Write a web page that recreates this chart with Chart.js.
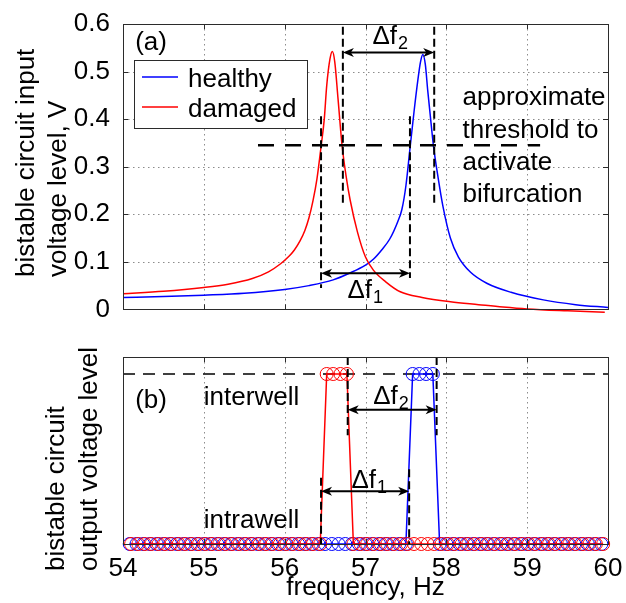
<!DOCTYPE html>
<html>
<head>
<meta charset="utf-8">
<script src="https://cdn.jsdelivr.net/npm/chart.js@4.4.1/dist/chart.umd.min.js"></script>
<style>
  html, body { margin: 0; padding: 0; background: #fff; }
  #wrap { position: relative; width: 626px; height: 603px; }
  canvas { position: absolute; left: 0; }
  #inputChart { top: 0; }
  #outputChart { top: 330px; }
</style>
</head>
<body>
<div id="wrap">
  <canvas id="inputChart" width="626" height="330"></canvas>
  <canvas id="outputChart" width="626" height="273"></canvas>
</div>
<script>
// ---------------- data ----------------
const freqTicks = [54, 55, 56, 57, 58, 59, 60];
const freqTickLabels = ['54', '55', '56', '57', '58', '59', '60'];
const inputTicks = [0, 0.1, 0.2, 0.3, 0.4, 0.5, 0.6];
const inputTickLabels = ['0', '0.1', '0.2', '0.3', '0.4', '0.5', '0.6'];

// (a) input voltage of the bistable circuit vs. excitation frequency
const healthyFreq  = [54.0, 54.5, 55.0, 55.5, 56.0, 56.3, 56.6, 56.8, 57.0, 57.1, 57.2, 57.3, 57.4, 57.45, 57.5, 57.55, 57.6, 57.65, 57.68, 57.71, 57.74, 57.77, 57.8, 57.84, 57.9, 57.96, 58.05, 58.15, 58.3, 58.5, 58.8, 59.2, 59.6, 60.0];
const healthyInput = [0.025, 0.027, 0.030, 0.034, 0.042, 0.050, 0.062, 0.076, 0.093, 0.106, 0.125, 0.148, 0.185, 0.21, 0.26, 0.338, 0.415, 0.485, 0.52, 0.536, 0.515, 0.46, 0.41, 0.345, 0.275, 0.215, 0.15, 0.11, 0.078, 0.055, 0.036, 0.02, 0.01, 0.004];

const damagedFreq  = [54.0, 54.5, 55.0, 55.3, 55.6, 55.8, 55.95, 56.05, 56.12, 56.19, 56.25, 56.3, 56.35, 56.4, 56.45, 56.49, 56.52, 56.56, 56.59, 56.62, 56.66, 56.71, 56.76, 56.81, 56.9, 57.0, 57.1, 57.25, 57.43, 57.7, 58.05, 58.4, 58.7, 59.0, 59.5, 59.96];
const damagedInput = [0.033, 0.038, 0.046, 0.053, 0.065, 0.079, 0.096, 0.111, 0.125, 0.144, 0.166, 0.192, 0.228, 0.275, 0.342, 0.4, 0.47, 0.526, 0.542, 0.52, 0.443, 0.345, 0.28, 0.23, 0.163, 0.11, 0.082, 0.058, 0.037, 0.025, 0.016, 0.01, 0.005, 0.001, -0.003, -0.006];

// (b) output state of the bistable circuit (0 = intrawell, 1 = interwell)
const healthySweep = [
  54.083, 54.167, 54.25, 54.333, 54.417, 54.5, 54.583, 54.667, 54.75, 54.833,
  54.917, 55, 55.083, 55.167, 55.25, 55.333, 55.417, 55.5, 55.583, 55.667,
  55.75, 55.833, 55.917, 56, 56.083, 56.167, 56.25, 56.333, 56.417, 56.5,
  56.583, 56.667, 56.75, 56.833, 56.917, 57, 57.083, 57.167, 57.25, 57.333,
  57.417, 57.5, 57.583, 57.667, 57.75, 57.833, 57.917, 58, 58.083, 58.167,
  58.25, 58.333, 58.417, 58.5, 58.583, 58.667, 58.75, 58.833, 58.917, 59,
  59.083, 59.167, 59.25, 59.333, 59.417, 59.5, 59.583, 59.667, 59.75, 59.833,
  59.917];
const healthyOutput = [
  0, 0, 0, 0, 0, 0, 0, 0, 0, 0,
  0, 0, 0, 0, 0, 0, 0, 0, 0, 0,
  0, 0, 0, 0, 0, 0, 0, 0, 0, 0,
  0, 0, 0, 0, 0, 0, 0, 0, 0, 0,
  0, 0, 1, 1, 1, 1, 0, 0, 0, 0,
  0, 0, 0, 0, 0, 0, 0, 0, 0, 0,
  0, 0, 0, 0, 0, 0, 0, 0, 0, 0,
  0];

const damagedSweep = [
  54.10, 54.19, 54.27, 54.35, 54.44, 54.52, 54.60, 54.69, 54.77, 54.85,
  54.94, 55.02, 55.10, 55.19, 55.27, 55.35, 55.44, 55.52, 55.60, 55.69,
  55.77, 55.85, 55.94, 56.02, 56.10, 56.19, 56.27, 56.35, 56.44, 56.52,
  56.60, 56.69, 56.77, 56.85, 56.94, 57.02, 57.10, 57.19, 57.27, 57.35,
  57.44, 57.52, 57.60, 57.69, 57.77, 57.85, 57.94, 58.02, 58.10, 58.19,
  58.27, 58.35, 58.44, 58.52, 58.60, 58.69, 58.77, 58.85, 58.94, 59.02,
  59.10, 59.19, 59.27, 59.35, 59.44, 59.52, 59.60, 59.69, 59.77, 59.85,
  59.94];
const damagedOutput = [
  0, 0, 0, 0, 0, 0, 0, 0, 0, 0,
  0, 0, 0, 0, 0, 0, 0, 0, 0, 0,
  0, 0, 0, 0, 0, 0, 0, 0, 0, 1,
  1, 1, 1, 0, 0, 0, 0, 0, 0, 0,
  0, 0, 0, 0, 0, 0, 0, 0, 0, 0,
  0, 0, 0, 0, 0, 0, 0, 0, 0, 0,
  0, 0, 0, 0, 0, 0, 0, 0, 0, 0,
  0];

// activation threshold and the frequency bands it cuts out of each curve
const thresholdLevel = 0.345;
const bandLow  = [56.45, 57.55];   // Δf1: lower threshold crossings
const bandHigh = [56.72, 57.85];   // Δf2: upper threshold crossings
const outBandLow  = [56.45, 57.54];
const outBandHigh = [56.78, 57.88];
const interwellLevel = 1;

// ---------------- styling ----------------
const BLUE = '#0000ff', RED = '#ff0000', INK = '#000000', FRAME = '#2b2b2b', GRID = '#8c8c8c';
const FAMILY = '"Liberation Sans", Arial, Helvetica, sans-serif';
const FS = 26;
const font = (s) => s + 'px ' + FAMILY;

const pts = (xs, ys) => xs.map((x, i) => ({ x: x, y: ys[i] }));

function dashedLine(ctx, x1, y1, x2, y2, w, dash, color) {
  ctx.save();
  ctx.strokeStyle = color || INK;
  ctx.lineWidth = w;
  ctx.setLineDash(dash);
  ctx.beginPath();
  ctx.moveTo(x1, y1);
  ctx.lineTo(x2, y2);
  ctx.stroke();
  ctx.restore();
}

function doubleArrow(ctx, x1, x2, y) {
  const hl = 11, hw = 4.5;
  ctx.save();
  ctx.strokeStyle = INK;
  ctx.fillStyle = INK;
  ctx.lineWidth = 2;
  ctx.beginPath();
  ctx.moveTo(x1 + 6, y);
  ctx.lineTo(x2 - 6, y);
  ctx.stroke();
  ctx.beginPath();
  ctx.moveTo(x1, y);
  ctx.lineTo(x1 + hl, y - hw);
  ctx.lineTo(x1 + hl * 0.72, y);
  ctx.lineTo(x1 + hl, y + hw);
  ctx.closePath();
  ctx.moveTo(x2, y);
  ctx.lineTo(x2 - hl, y - hw);
  ctx.lineTo(x2 - hl * 0.72, y);
  ctx.lineTo(x2 - hl, y + hw);
  ctx.closePath();
  ctx.fill();
  ctx.restore();
}

// "Δf" with a subscript index, centred on cx, sitting on baseline by
function deltaLabel(ctx, cx, by, sub) {
  ctx.save();
  ctx.fillStyle = INK;
  ctx.textBaseline = 'alphabetic';
  ctx.textAlign = 'left';
  ctx.font = font(FS);
  const w1 = ctx.measureText('Δf').width;
  ctx.font = font(18);
  const w2 = ctx.measureText(sub).width;
  const x0 = cx - (w1 + w2) / 2;
  ctx.font = font(FS);
  ctx.fillText('Δf', x0, by);
  ctx.font = font(18);
  ctx.fillText(sub, x0 + w1 + 1, by + 5);
  ctx.restore();
}

function text(ctx, str, x, y) {
  ctx.save();
  ctx.fillStyle = INK;
  ctx.font = font(FS);
  ctx.textAlign = 'left';
  ctx.textBaseline = 'alphabetic';
  ctx.fillText(str, x, y);
  ctx.restore();
}

// multi-line axis title, rotated, each line starting at the same bottom point
function rotatedTitle(ctx, lines, baseX, startY) {
  ctx.save();
  ctx.fillStyle = INK;
  ctx.font = font(FS);
  ctx.textAlign = 'left';
  ctx.textBaseline = 'alphabetic';
  lines.forEach((t, i) => {
    ctx.save();
    ctx.translate(baseX[i], startY);
    ctx.rotate(-Math.PI / 2);
    ctx.fillText(t, 0, 0);
    ctx.restore();
  });
  ctx.restore();
}

// dotted grid at the scale ticks
function dottedGrid(chart, withY) {
  const ctx = chart.ctx, a = chart.chartArea;
  const sx = chart.scales.x, sy = chart.scales.y;
  sx.ticks.forEach(t => {
    const x = Math.round(sx.getPixelForValue(t.value)) + 0.5;
    dashedLine(ctx, x, a.top, x, a.bottom, 1, [1.5, 3.5], GRID);
  });
  if (withY) {
    sy.ticks.forEach(t => {
      const y = Math.round(sy.getPixelForValue(t.value)) + 0.5;
      dashedLine(ctx, a.left, y, a.right, y, 1, [1.5, 3.5], GRID);
    });
  }
}

// axes box with inward tick marks
function frame(chart, withYTicks) {
  const ctx = chart.ctx, a = chart.chartArea;
  const sx = chart.scales.x, sy = chart.scales.y;
  const tl = 5;
  ctx.save();
  ctx.strokeStyle = FRAME;
  ctx.lineWidth = 1;
  ctx.strokeRect(Math.round(a.left) + 0.5, Math.round(a.top) + 0.5,
                 Math.round(a.right - a.left), Math.round(a.bottom - a.top));
  ctx.beginPath();
  sx.ticks.forEach(t => {
    const x = Math.round(sx.getPixelForValue(t.value)) + 0.5;
    ctx.moveTo(x, a.bottom); ctx.lineTo(x, a.bottom - tl);
    ctx.moveTo(x, a.top); ctx.lineTo(x, a.top + tl);
  });
  if (withYTicks) {
    sy.ticks.forEach(t => {
      const y = Math.round(sy.getPixelForValue(t.value)) + 0.5;
      ctx.moveTo(a.left, y); ctx.lineTo(a.left + tl, y);
      ctx.moveTo(a.right, y); ctx.lineTo(a.right - tl, y);
    });
  }
  ctx.stroke();
  ctx.restore();
}

const noGrid = { display: false };
const noBorder = { display: false };

// ---------------- (a) input voltage ----------------
const inputOverlay = {
  id: 'inputOverlay',
  beforeDatasetsDraw(chart) {
    dottedGrid(chart, true);
  },
  afterDatasetsDraw(chart) {
    const ctx = chart.ctx;
    const X = v => chart.scales.x.getPixelForValue(v);
    const Y = v => chart.scales.y.getPixelForValue(v);

    // activation threshold
    dashedLine(ctx, X(55.67), Y(thresholdLevel), X(59.16), Y(thresholdLevel), 2.6, [16, 11]);

    // Δf1 between the lower crossings
    dashedLine(ctx, X(bandLow[0]), Y(0.406), X(bandLow[0]), Y(0.045), 2, [8, 4]);
    dashedLine(ctx, X(bandLow[1]), Y(0.406), X(bandLow[1]), Y(0.066), 2, [8, 4]);
    doubleArrow(ctx, X(bandLow[0]), X(bandLow[1]), Y(0.076));
    deltaLabel(ctx, X(56.99), Y(0.025), '1');

    // Δf2 between the upper crossings
    dashedLine(ctx, X(bandHigh[0]), Y(0.594), X(bandHigh[0]), Y(0.216), 2, [8, 4]);
    dashedLine(ctx, X(bandHigh[1]), Y(0.594), X(bandHigh[1]), Y(0.216), 2, [8, 4]);
    doubleArrow(ctx, X(bandHigh[0]), X(bandHigh[1]), Y(0.54));
    deltaLabel(ctx, X(57.3), Y(0.557), '2');

    text(ctx, 'approximate', X(58.2), Y(0.429));
    text(ctx, 'threshold to', X(58.2), Y(0.361));
    text(ctx, 'activate', X(58.2), Y(0.293));
    text(ctx, 'bifurcation', X(58.2), Y(0.225));
    text(ctx, '(a)', X(54.15), Y(0.546));
  },
  afterDraw(chart) {
    const ctx = chart.ctx, a = chart.chartArea;
    frame(chart, true);

    // legend box
    const lx = a.left + 11, ly = a.top + 36, lw = 173, lh = 68;
    ctx.save();
    ctx.fillStyle = '#fff';
    ctx.fillRect(lx, ly, lw, lh);
    ctx.strokeStyle = FRAME;
    ctx.lineWidth = 1;
    ctx.strokeRect(lx + 0.5, ly + 0.5, lw, lh);
    chart.data.datasets.forEach((ds, i) => {
      const y = ly + 17 + i * 30;
      ctx.strokeStyle = ds.borderColor;
      ctx.lineWidth = 1.5;
      ctx.beginPath();
      ctx.moveTo(lx + 8, y);
      ctx.lineTo(lx + 44, y);
      ctx.stroke();
      text(ctx, ds.label, lx + 54, y + 10);
    });
    ctx.restore();

    rotatedTitle(ctx, ['bistable circuit input', 'voltage level, V'], [34, 66], 277);
  }
};

new Chart(document.getElementById('inputChart'), {
  type: 'line',
  data: {
    datasets: [
      { label: 'healthy', data: pts(healthyFreq, healthyInput), borderColor: BLUE, borderWidth: 1.5,
        pointRadius: 0, cubicInterpolationMode: 'monotone', order: 2, clip: 4 },
      { label: 'damaged', data: pts(damagedFreq, damagedInput), borderColor: RED, borderWidth: 1.5,
        pointRadius: 0, cubicInterpolationMode: 'monotone', order: 1,
        clip: { left: 0, top: 0, right: 0, bottom: 6 } }
    ]
  },
  options: {
    responsive: false, animation: false, events: [], devicePixelRatio: 1,
    layout: { padding: { left: 0, right: 18, top: 24, bottom: 0 } },
    plugins: { legend: { display: false }, tooltip: { enabled: false } },
    scales: {
      x: {
        type: 'linear', min: 54, max: 60,
        afterBuildTicks: s => { s.ticks = freqTicks.map(v => ({ value: v })); },
        ticks: { display: false },
        grid: noGrid, border: noBorder,
        afterFit: s => { s.height = 15; }
      },
      y: {
        type: 'linear', min: 0, max: 0.6,
        afterBuildTicks: s => { s.ticks = inputTicks.map(v => ({ value: v })); },
        ticks: { padding: 5, color: INK, font: { family: FAMILY, size: FS },
                 callback: (v, i) => inputTickLabels[i] },
        grid: noGrid, border: noBorder,
        afterFit: s => { s.width = 123; }
      }
    }
  },
  plugins: [inputOverlay]
});

// ---------------- (b) output state ----------------
const outputOverlay = {
  id: 'outputOverlay',
  beforeDatasetsDraw(chart) {
    const ctx = chart.ctx;
    const X = v => chart.scales.x.getPixelForValue(v);
    const Y = v => chart.scales.y.getPixelForValue(v);
    dottedGrid(chart, false);
    dashedLine(ctx, X(54), Y(interwellLevel), X(60), Y(interwellLevel), 1.6, [12, 8]);
  },
  afterDatasetsDraw(chart) {
    const ctx = chart.ctx;
    const X = v => chart.scales.x.getPixelForValue(v);
    const Y = v => chart.scales.y.getPixelForValue(v);

    dashedLine(ctx, X(outBandLow[0]), Y(0.39), X(outBandLow[0]), Y(0), 2, [8, 4]);
    dashedLine(ctx, X(outBandLow[1]), Y(0.44), X(outBandLow[1]), Y(0), 2, [8, 4]);
    doubleArrow(ctx, X(outBandLow[0]), X(outBandLow[1]), Y(0.31));
    deltaLabel(ctx, X(57.04), Y(0.327), '1');

    dashedLine(ctx, X(outBandHigh[0]), Y(1.1), X(outBandHigh[0]), Y(0.64), 2, [8, 4]);
    dashedLine(ctx, X(outBandHigh[1]), Y(1.1), X(outBandHigh[1]), Y(0.64), 2, [8, 4]);
    doubleArrow(ctx, X(outBandHigh[0]), X(outBandHigh[1]), Y(0.79));
    deltaLabel(ctx, X(57.31), Y(0.825), '2');

    text(ctx, '(b)', X(54.15), Y(0.80));
    text(ctx, 'interwell', X(55.0), Y(0.82));
    text(ctx, 'intrawell', X(55.0), Y(0.094));
  },
  afterDraw(chart) {
    frame(chart, false);
    rotatedTitle(chart.ctx, ['bistable circuit', 'output voltage level'], [64, 97], 241);
  }
};

new Chart(document.getElementById('outputChart'), {
  type: 'line',
  data: {
    datasets: [
      { label: 'healthy', data: pts(healthySweep, healthyOutput), borderColor: BLUE, borderWidth: 1.5,
        pointRadius: 6.5, pointBorderWidth: 1, pointBorderColor: BLUE,
        pointBackgroundColor: 'rgba(0,0,0,0)', tension: 0, order: 2, clip: 10 },
      { label: 'damaged', data: pts(damagedSweep, damagedOutput), borderColor: RED, borderWidth: 1.5,
        pointRadius: 6.5, pointBorderWidth: 1, pointBorderColor: RED,
        pointBackgroundColor: 'rgba(0,0,0,0)', tension: 0, order: 1, clip: 10 }
    ]
  },
  options: {
    responsive: false, animation: false, events: [], devicePixelRatio: 1,
    layout: { padding: { left: 0, right: 18, top: 27, bottom: 0 } },
    plugins: { legend: { display: false }, tooltip: { enabled: false } },
    scales: {
      x: {
        type: 'linear', min: 54, max: 60,
        afterBuildTicks: s => { s.ticks = freqTicks.map(v => ({ value: v })); },
        ticks: { padding: 1, color: INK, font: { family: FAMILY, size: FS },
                 maxRotation: 0, callback: (v, i) => freqTickLabels[i] },
        grid: noGrid, border: noBorder,
        title: { display: true, text: 'frequency, Hz', color: INK,
                 font: { family: FAMILY, size: FS }, padding: 0 },
        afterFit: s => { s.height = 59; }
      },
      y: {
        type: 'linear', min: 0, max: 1.1,
        ticks: { display: false },
        grid: noGrid, border: noBorder,
        afterFit: s => { s.width = 123; }
      }
    }
  },
  plugins: [outputOverlay]
});
</script>
</body>
</html>
